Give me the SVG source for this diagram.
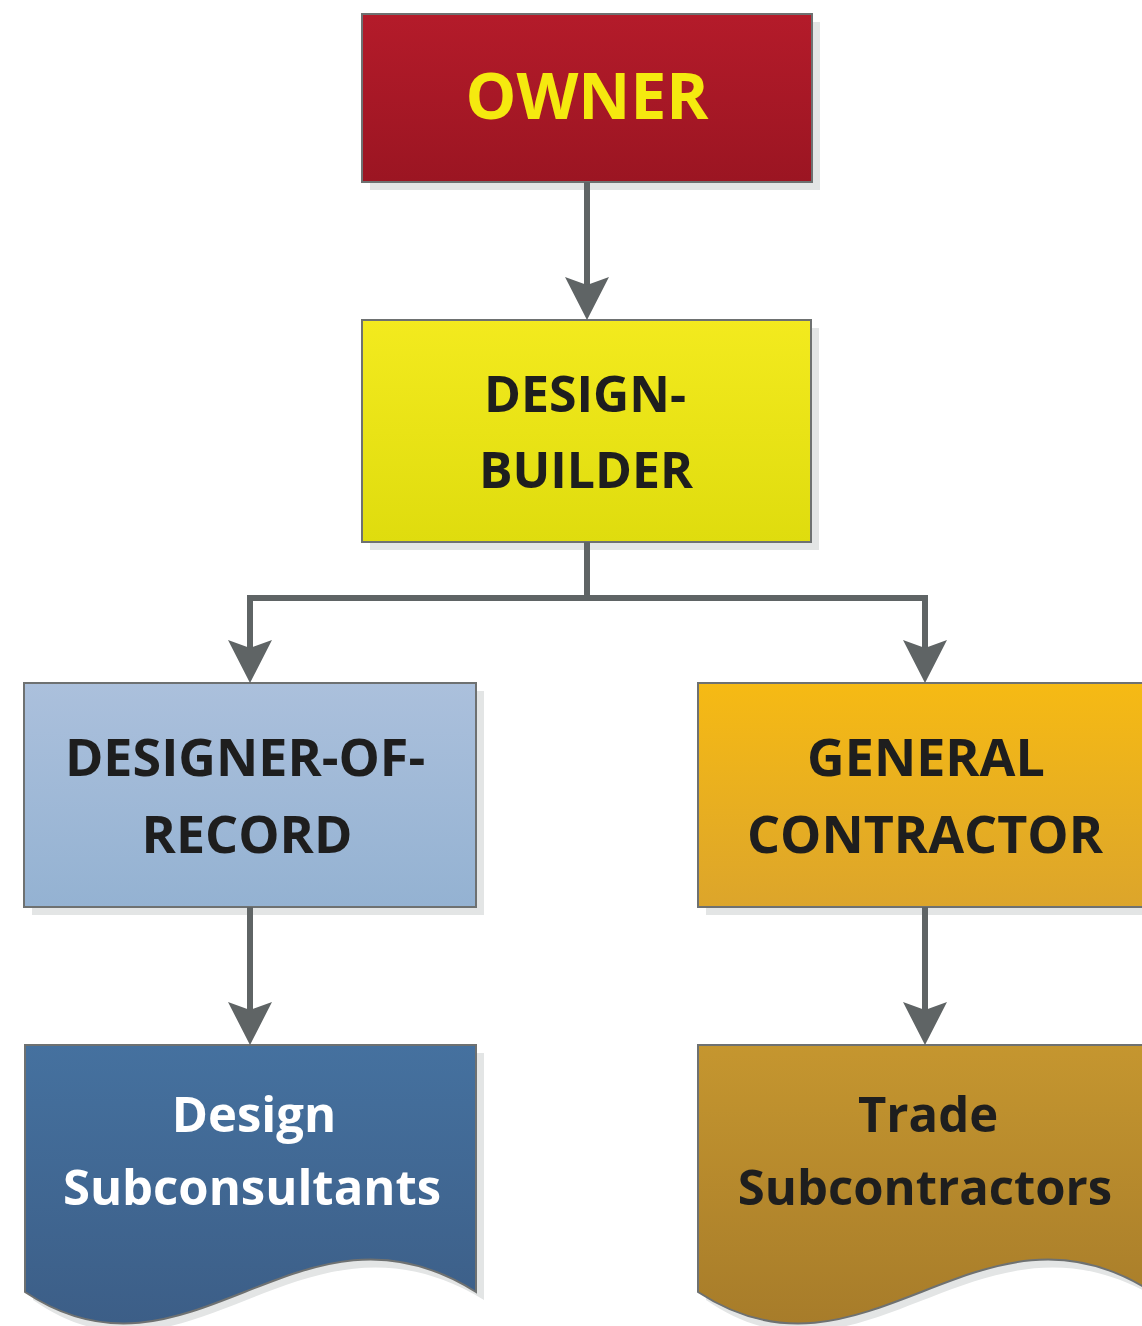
<svg xmlns="http://www.w3.org/2000/svg" width="1142" height="1326" viewBox="0 0 1142 1326">
  <defs>
    <linearGradient id="gRed" x1="0" y1="0" x2="0" y2="1"><stop offset="0" stop-color="#b41b2a"/><stop offset="1" stop-color="#9b1522"/></linearGradient>
    <linearGradient id="gYel" x1="0" y1="0" x2="0" y2="1"><stop offset="0" stop-color="#f3ea1e"/><stop offset="1" stop-color="#dfdc0e"/></linearGradient>
    <linearGradient id="gBlu" x1="0" y1="0" x2="0" y2="1"><stop offset="0" stop-color="#abc0dc"/><stop offset="1" stop-color="#94b2d2"/></linearGradient>
    <linearGradient id="gOra" x1="0" y1="0" x2="0" y2="1"><stop offset="0" stop-color="#f6ba14"/><stop offset="1" stop-color="#dca52b"/></linearGradient>
    <linearGradient id="gNav" x1="0" y1="0" x2="0" y2="1"><stop offset="0" stop-color="#45719f"/><stop offset="1" stop-color="#3c5e87"/></linearGradient>
    <linearGradient id="gGold" x1="0" y1="0" x2="0" y2="1"><stop offset="0" stop-color="#c5962f"/><stop offset="1" stop-color="#a77c2a"/></linearGradient>
    <marker id="arr" markerUnits="userSpaceOnUse" viewBox="0 0 44 44" refX="23" refY="22" markerWidth="44" markerHeight="44" orient="auto">
      <path d="M0,0 L8,22 L0,44 L43,22 Z" fill="#5f6465"/>
    </marker>
  </defs>
  <style>
    .box{stroke:#6e7171;stroke-width:2}
    .sh{fill:#e3e5e5}
    .t{font-family:"Open Sans","Liberation Sans",sans-serif;font-weight:bold;text-anchor:middle;fill:#1e1e1e}
    .con{fill:none;stroke:#5f6465;stroke-width:6}
  </style>
  <rect width="1142" height="1326" fill="#ffffff"/>

  <g id="owner">
    <rect class="sh" x="370" y="22" width="450" height="168"/>
    <rect class="box" x="362" y="14" width="450" height="168" fill="url(#gRed)"/>
    <text class="t" x="587" y="119" font-size="64" style="fill:#f5e90f">OWNER</text>
  </g>

  <g id="design-builder">
    <rect class="sh" x="370" y="328" width="449" height="222"/>
    <rect class="box" x="362" y="320" width="449" height="222" fill="url(#gYel)"/>
    <text class="t" x="585" y="412" font-size="50">DESIGN-</text>
    <text class="t" x="586" y="488" font-size="50">BUILDER</text>
  </g>

  <g id="designer-of-record">
    <rect class="sh" x="32" y="691" width="452" height="224"/>
    <rect class="box" x="24" y="683" width="452" height="224" fill="url(#gBlu)"/>
    <text class="t" x="245" y="776" font-size="52">DESIGNER-OF-</text>
    <text class="t" x="247" y="853" font-size="52">RECORD</text>
  </g>

  <g id="general-contractor">
    <rect class="sh" x="706" y="691" width="460" height="224"/>
    <rect class="box" x="698" y="683" width="460" height="224" fill="url(#gOra)"/>
    <text class="t" x="926" y="776" font-size="52">GENERAL</text>
    <text class="t" x="925" y="853" font-size="52">CONTRACTOR</text>
  </g>

  <g id="design-subconsultants">
    <path class="sh" d="M33,1053 L484,1053 L484,1300 C300,1188 190,1410 33,1300 Z"/>
    <path class="box" d="M25,1045 L476,1045 L476,1292 C300,1180 190,1402 25,1292 Z" fill="url(#gNav)"/>
    <text class="t" x="254" y="1132" font-size="49" style="fill:#ffffff">Design</text>
    <text class="t" x="252" y="1205" font-size="49" style="fill:#ffffff">Subconsultants</text>
  </g>

  <g id="trade-subcontractors">
    <path class="sh" d="M706,1053 L1160,1053 L1160,1300 C980,1188 865,1410 706,1300 Z"/>
    <path class="box" d="M698,1045 L1152,1045 L1152,1292 C980,1180 865,1402 698,1292 Z" fill="url(#gGold)"/>
    <text class="t" x="928" y="1132" font-size="49">Trade</text>
    <text class="t" x="925" y="1205" font-size="49">Subcontractors</text>
  </g>

  <g id="connectors">
    <path class="con" d="M587,182 L587,300" marker-end="url(#arr)"/>
    <path class="con" d="M587,542 L587,598 L250,598 L250,663" marker-end="url(#arr)"/>
    <path class="con" d="M587,598 L925,598 L925,663" marker-end="url(#arr)"/>
    <path class="con" d="M250,907 L250,1025" marker-end="url(#arr)"/>
    <path class="con" d="M925,907 L925,1025" marker-end="url(#arr)"/>
  </g>
</svg>
